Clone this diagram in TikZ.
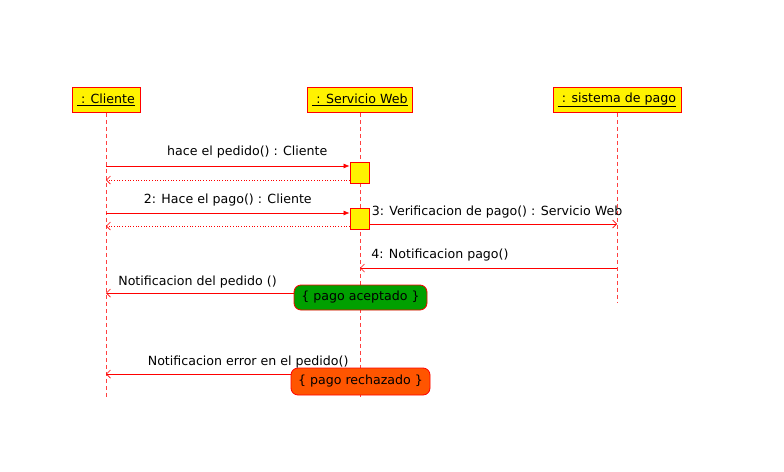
\documentclass[tikz,border=0pt]{standalone}
\usepackage{fontspec}
\setmainfont{DejaVu Sans}
\usetikzlibrary{arrows.meta,positioning}
\definecolor{okgreen}{RGB}{0,160,0}
\definecolor{nokorange}{RGB}{255,85,0}

\begin{document}
\begin{tikzpicture}[x=1pt,y=-1pt,font=\fontsize{12.6}{15}\selectfont,
	obj/.style={draw=red,fill=yellow,line width=0.8pt,inner xsep=5pt,minimum height=25pt},
	life/.style={red!75,dashed,dash pattern=on 4pt off 3pt,line width=0.8pt},
	act/.style={draw=red,fill=yellow,line width=0.8pt,minimum width=19pt,minimum height=21pt,inner sep=0pt},
	msg/.style={red,line width=0.7pt,-{Latex[length=6pt,width=5pt]}},
	ret/.style={red,dotted,line width=0.7pt,-{Straight Barb[length=4pt,width=8pt]}},
	rsp/.style={red,line width=0.7pt,-{Straight Barb[length=4pt,width=8pt]}},
	lbl/.style={text=black,inner sep=2pt},
	cond/.style={draw=red,line width=0.8pt,rounded corners=7pt,minimum height=25pt,inner xsep=6pt}
	]

	\useasboundingbox (0,0) rectangle (784,471);

	% objetos
	\node[obj] (cli) at (106,100) {\underline{\ : Cliente}};
	\node[obj] (sw) at (360,100) {\underline{\ : Servicio Web}};
	\node[obj] (sp) at (617,100) {\underline{\ : sistema de pago}};

	\coordinate (cliEnd) at (106,399);
	\coordinate (swEnd) at (360,399);
	\coordinate (spEnd) at (617,302);

	\draw[life] (cli) -- (cliEnd);
	\draw[life] (sw) -- (swEnd);
	\draw[life] (sp) -- (spEnd);

	% activaciones
	\node[act] (a1) at (359.5,172.5) {};
	\node[act] (a2) at (359.5,219) {};

	% mensajes
	\coordinate (m1) at (106,166);
	\draw[msg] (m1) -- (m1 -| a1.west) node[lbl,pos=0.58,above=6pt]{hace el pedido() : Cliente};
	\coordinate (r1) at (106,180);
	\draw[ret] (r1 -| a1.west) -- (r1);

	\coordinate (m2) at (106,213);
	\draw[msg] (m2) -- (m2 -| a2.west) node[lbl,midway,above=5pt]{2: Hace el pago() : Cliente};
	\coordinate (r2) at (106,226);
	\draw[ret] (r2 -| a2.west) -- (r2);

	\coordinate (m3) at (617,224);
	\draw[rsp] (m3 -| a2.east) -- (m3) node[lbl,pos=0,anchor=south west,yshift=4pt]{3: Verificacion de pago() : Servicio Web};

	\coordinate (m4) at (617,268);
	\draw[rsp] (m4) -- (m4 -| sw) node[lbl,pos=1,anchor=south west,xshift=9pt,yshift=5pt]{4: Notificacion pago()};

	% condiciones
	\node[cond,fill=okgreen,minimum width=133pt] (ok) at (360.5,297.5) {\{ pago aceptado \}};
	\node[cond,fill=nokorange,minimum width=139pt,minimum height=27pt] (nok) at (360.5,381.5) {\{ pago rechazado \}};

	\coordinate (m5) at (106,293);
	\draw[rsp] (m5 -| ok.west) -- (m5) node[lbl,pos=1,anchor=south west,xshift=10pt,yshift=3pt]{Notificacion del pedido ()};

	\coordinate (m6) at (106,374);
	\draw[rsp] (m6 -| nok.west) -- (m6) node[lbl,pos=0.23,above=4pt]{Notificacion error en el pedido()};

\end{tikzpicture}
\end{document}
